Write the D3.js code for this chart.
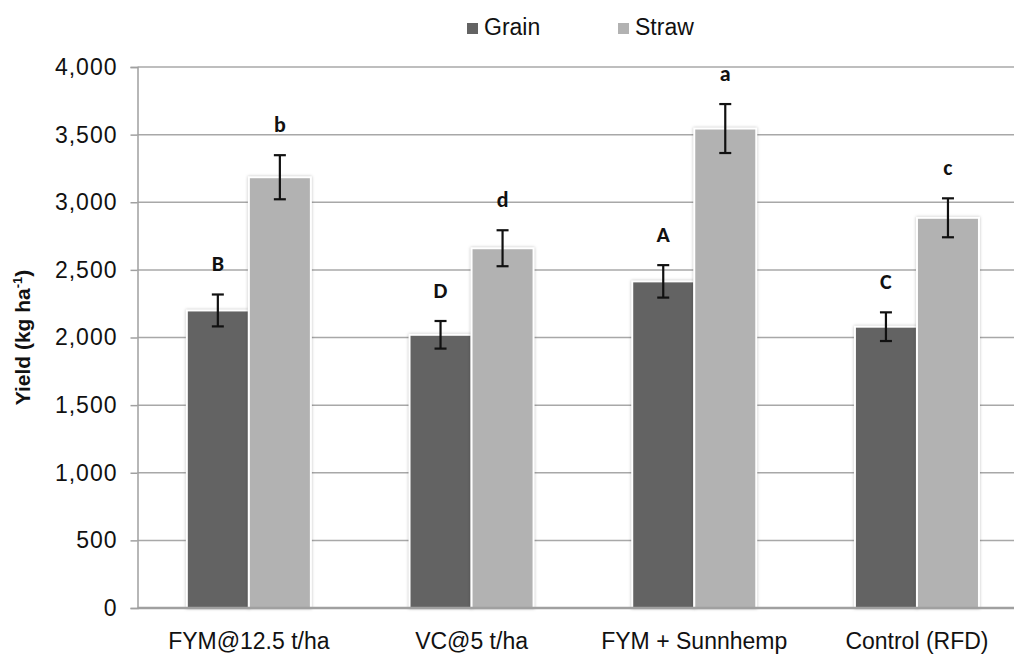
<!DOCTYPE html>
<html lang="en">
<head>
<meta charset="UTF-8">
<title>Yield</title>
<script src="https://d3js.org/d3.v7.min.js"></script>
<style>
  body { margin: 0; background: #fff; }
  text { font-family: "Liberation Sans", Arial, sans-serif; fill: #111; }
</style>
</head>
<body>
<div id="chart"></div>
<script>
  const W = 1014, H = 657;

  // data
  const categories = ["FYM@12.5 t/ha", "VC@5 t/ha", "FYM + Sunnhemp", "Control (RFD)"];
  const series = ["Grain", "Straw"];
  const grain = [2200, 2020, 2415, 2080];
  const straw = [3185, 2660, 3545, 2885];
  const grainErr = [118, 102, 120, 106];
  const strawErr = [163, 133, 181, 144];
  const grainLetters = ["B", "D", "A", "C"];
  const strawLetters = ["b", "d", "a", "c"];
  const yTicks = [0, 500, 1000, 1500, 2000, 2500, 3000, 3500, 4000];

  const colors = { Grain: "#636363", Straw: "#b2b2b2" };

  const rows = [];
  categories.forEach((c, i) => {
    rows.push({ cat: c, s: "Grain", v: grain[i], e: grainErr[i], l: grainLetters[i] });
    rows.push({ cat: c, s: "Straw", v: straw[i], e: strawErr[i], l: strawLetters[i] });
  });

  const svg = d3.select("#chart").append("svg")
    .attr("width", W)
    .attr("height", H);

  const mLeft = 137.5, mTop = 67, mBottom = 608;

  const y = d3.scaleLinear().domain([0, 4000]).range([mBottom, mTop]);
  const x0 = d3.scaleBand().domain(categories)
    .range([mLeft, mLeft + 4 * 222.7])
    .paddingInner(0.443).paddingOuter(0.2215);
  const x1 = d3.scaleBand().domain(series).range([0, x0.bandwidth()]);

  // gridlines
  svg.append("g").selectAll("line")
    .data(yTicks.filter(d => d > 0))
    .enter().append("line")
    .attr("x1", mLeft).attr("x2", W)
    .attr("y1", d => y(d)).attr("y2", d => y(d))
    .attr("stroke", "#a8a8a8").attr("stroke-width", 1.5);

  // y axis
  const yAxis = svg.append("g")
    .attr("transform", `translate(${mLeft},0)`)
    .call(d3.axisLeft(y).tickValues(yTicks).tickFormat(d3.format(",")).tickSize(7).tickPadding(13));
  yAxis.select(".domain").attr("stroke", "#a0a0a0").attr("stroke-width", 1.5);
  yAxis.selectAll(".tick line").attr("stroke", "#a0a0a0").attr("stroke-width", 1.5);
  yAxis.selectAll(".tick text")
    .attr("font-size", 23).attr("fill", "#111")
    .style("letter-spacing", "1px")
    .attr("font-family", "Liberation Sans, Arial, sans-serif");

  // bars
  const g = svg.append("g");
  g.selectAll("rect")
    .data(rows)
    .enter().append("rect")
    .attr("x", d => x0(d.cat) + x1(d.s))
    .attr("y", d => y(d.v))
    .attr("width", x1.bandwidth())
    .attr("height", d => y(0) - y(d.v))
    .attr("fill", d => colors[d.s])
    .attr("stroke", "#fff")
    .attr("stroke-width", 2)
    .style("filter", "drop-shadow(0px 0px 1.5px rgba(0,0,0,0.25))");

  // baseline
  svg.append("line")
    .attr("x1", mLeft).attr("x2", W)
    .attr("y1", y(0)).attr("y2", y(0))
    .attr("stroke", "#a0a0a0").attr("stroke-width", 2.5);

  // error bars
  const eb = svg.append("g").attr("stroke", "#111").attr("stroke-width", 2.2);
  rows.forEach(d => {
    const cx = x0(d.cat) + x1(d.s) + x1.bandwidth() / 2;
    eb.append("line").attr("x1", cx).attr("x2", cx).attr("y1", y(d.v + d.e)).attr("y2", y(d.v - d.e));
    eb.append("line").attr("x1", cx - 6).attr("x2", cx + 6).attr("y1", y(d.v + d.e)).attr("y2", y(d.v + d.e));
    eb.append("line").attr("x1", cx - 6).attr("x2", cx + 6).attr("y1", y(d.v - d.e)).attr("y2", y(d.v - d.e));
  });

  // significance letters
  svg.append("g").selectAll("text")
    .data(rows)
    .enter().append("text")
    .attr("x", d => x0(d.cat) + x1(d.s) + x1.bandwidth() / 2)
    .attr("y", d => y(d.v + d.e) - 23)
    .attr("text-anchor", "middle")
    .attr("font-size", 22)
    .attr("font-weight", "bold")
    .attr("fill", "#111")
    .style("font-family", "Carlito, 'Liberation Sans', sans-serif")
    .text(d => d.l);

  // x labels
  svg.append("g").selectAll("text")
    .data(categories)
    .enter().append("text")
    .attr("x", d => x0(d) + x0.bandwidth() / 2)
    .attr("y", 649)
    .attr("text-anchor", "middle")
    .attr("font-size", 23)
    .text(d => d);

  // y title
  const yt = svg.append("text")
    .attr("transform", `translate(30,${(mTop + mBottom) / 2}) rotate(-90)`)
    .attr("text-anchor", "middle")
    .attr("font-size", 21)
    .attr("font-weight", "bold");
  yt.append("tspan").text("Yield (kg ha");
  yt.append("tspan").attr("font-size", 13).attr("dy", -8).text("-1");
  yt.append("tspan").attr("dy", 8).text(")");

  // legend
  const legendX = [467, 618];
  const lg = svg.append("g").selectAll("g")
    .data(series)
    .enter().append("g")
    .attr("transform", (d, i) => `translate(${legendX[i]},23)`);
  lg.append("rect").attr("width", 11).attr("height", 11).attr("fill", d => colors[d]);
  lg.append("text").attr("x", 17).attr("y", 12).attr("font-size", 23)
    .text(d => d);
</script>
</body>
</html>
